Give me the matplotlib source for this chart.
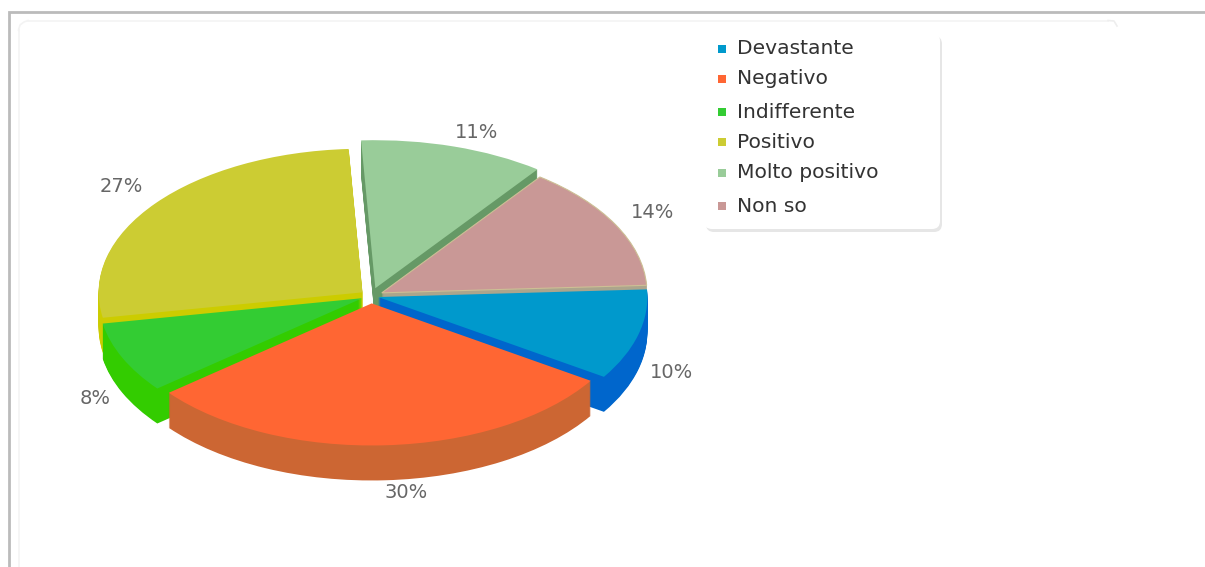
import numpy as np
import matplotlib
matplotlib.use('Agg')
import matplotlib.pyplot as plt
from matplotlib.patches import FancyBboxPatch

labels = ['Devastante', 'Negativo', 'Indifferente', 'Positivo', 'Molto positivo', 'Non so']
values = [10, 30, 8, 27, 11, 14]
top_colors = ['#0099cc', '#ff6633', '#33cc33', '#cccc33', '#99cc99', '#c99896']
side_colors = ['#0066cc', '#cc6633', '#33cc00', '#cccc00', '#669966', '#aca58c']

# how far each slice sits out of the pie, its size, and paint order (back to front)
explode = [0.027, 0.05, 0.035, 0.04, 0.055, 0.045]
radii = [0.99, 0.96, 0.97, 0.97, 1.0, 0.975]
paint_order = [4, 5, 3, 2, 0, 1]  # z rank per slice

W, H = 1205, 567
CX, CY = 371, 296   # pie centre in pixels
RX, RY = 272, 148   # pie radii in pixels
DEPTH = 35

fig = plt.figure(figsize=(W / 100, H / 100), dpi=100)

# pixel axes for the page frame, legend and labels
pg = fig.add_axes([0, 0, 1, 1], zorder=2)
pg.set_xlim(0, W)
pg.set_ylim(H, 0)
pg.axis('off')
pg.patch.set_alpha(0)

pg.plot([9, 9, W], [H, 11.5, 11.5], color='#bbbbbb', lw=2, solid_joinstyle='miter')
pg.plot([18.5, 18.5], [H, 30], color='#f3f3f3', lw=1.2)
pg.plot([28, 1108], [20.5, 20.5], color='#f3f3f3', lw=1.2)
pg.plot([18.5, 20, 24, 28], [30, 25, 22, 20.5], color='#f3f3f3', lw=1.2)
pg.plot([1108, 1114, 1117], [20.5, 21, 26], color='#eeeeee', lw=1.2)

# legend box
pg.add_patch(FancyBboxPatch((706, 36), 236, 196, boxstyle='round,pad=0,rounding_size=8',
                            fc='#e6e6e6', ec='none'))
pg.add_patch(FancyBboxPatch((704, 33), 236, 196, boxstyle='round,pad=0,rounding_size=8',
                            fc='white', ec='none'))
legend_y = [49, 79, 112, 142, 173, 206]
for name, col, y in zip(labels, top_colors, legend_y):
    pg.scatter([722], [y], marker='s', s=32, color=col, lw=0)
    pg.text(737, y, name, fontsize=14.6, color='#333333', va='center', ha='left')

# percent labels
label_x = [671, 406, 95, 121, 477, 653]
label_y = [373, 492, 399, 187, 132, 213]
for v, x, y in zip(values, label_x, label_y):
    pg.text(x, y, '%d%%' % v, fontsize=14, color='#666666', ha='center', va='center')

# pie axes, squashed to look tilted
ax = fig.add_axes([0, 0, 1, 1], zorder=1)
for k in np.arange(DEPTH, -1, -1.0):
    cols = top_colors if k == 0 else side_colors
    wedges, _ = ax.pie(values, explode=explode, colors=cols, startangle=3,
                       counterclock=False, center=(0, -k / RY),
                       wedgeprops={'linewidth': 0})
    for i, w in enumerate(wedges):
        w.set_radius(radii[i])
        w.set_zorder(paint_order[i] * 100 + (DEPTH - k) + (50 if k == 0 else 0))
        if k == 0 and i == 5:
            w.set_edgecolor('#cdbf95')
            w.set_linewidth(0.8)

ax.set_aspect('auto')
ax.set_xlim(-CX / RX, (W - CX) / RX)
ax.set_ylim(-(H - CY) / RY, CY / RY)

fig.savefig('out.png', dpi=100, facecolor='white')
